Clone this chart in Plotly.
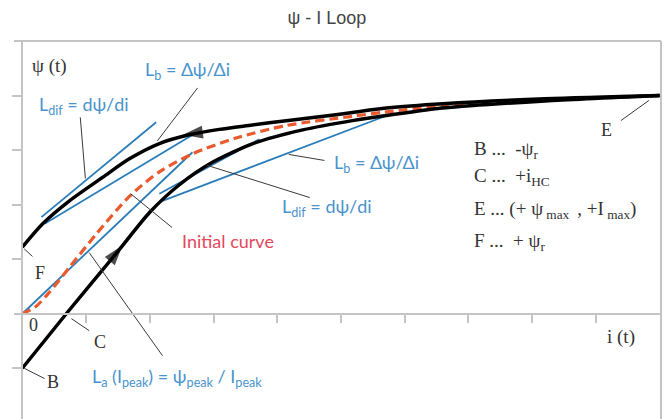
import plotly.graph_objects as go

# ---- hysteresis loop (flux linkage psi vs current i) ----
lower_i = [0.0, 0.69, 1.47, 2.0, 2.46, 2.99, 3.62, 4.40, 5.18, 5.87, 6.6, 8.2, 10.0]
lower_psi = [-1.0, 0.0, 1.10, 1.86, 2.36, 2.78, 3.12, 3.37, 3.54, 3.66, 3.77, 3.90, 4.0]

upper_i = [10.0, 8.2, 6.6, 5.71, 5.18, 4.66, 4.14, 3.61, 3.09, 2.62, 2.15, 1.68, 1.26, 0.74, 0.32, 0.0]
upper_psi = [4.0, 3.94, 3.85, 3.77, 3.69, 3.61, 3.54, 3.46, 3.38, 3.28, 3.12, 2.84, 2.50, 2.07, 1.65, 1.22]

init_i = [0.0, 0.2, 0.4, 0.74, 1.16, 1.68, 2.15, 2.67, 3.35, 4.14, 5.18, 5.71, 6.6, 8.2, 10.0]
init_psi = [0.0, 0.12, 0.36, 0.85, 1.46, 2.15, 2.60, 2.93, 3.22, 3.45, 3.62, 3.70, 3.81, 3.92, 4.0]

# ---- inductance construction lines ----
la_i, la_psi = [0.0, 2.67], [0.0, 2.96]
ldif_up_i, ldif_up_psi = [0.30, 2.10], [1.77, 3.51]
lb_up_i, lb_up_psi = [0.35, 2.70], [1.65, 3.30]
ldif_low_i, ldif_low_psi = [2.15, 3.72], [2.20, 3.20]
lb_low_i, lb_low_psi = [2.20, 5.71], [2.07, 3.63]

# ---- direction arrows on the loop (tail, tip) ----
arrow_up_i, arrow_up_psi = [1.30, 1.57], [0.86, 1.25]
arrow_back_i, arrow_back_psi = [2.95, 2.52], [3.35, 3.28]

# ---- leader lines from labels to curves ----
leaders = [
    ((2.75, 4.14), (2.12, 3.17)),   # top L_b
    ((0.91, 3.60), (0.99, 2.48)),   # top L_dif
    ((4.74, 2.81), (4.18, 2.92)),   # right L_b
    ((4.51, 2.13), (2.90, 2.72)),   # right L_dif
    ((2.35, 1.58), (1.70, 2.20)),   # initial curve
    ((2.20, -0.77), (1.05, 1.12)),  # L_a
    ((0.77, -0.09), (1.05, -0.31)), # C
    ((0.03, -1.0), (0.35, -1.19)),  # B
    ((0.03, 1.19), (0.16, 1.05)),   # F
    ((9.39, 3.54), (9.83, 3.91)),   # E
]

x_ticks = [1, 2, 3, 4, 5, 6, 7, 8, 9]
y_ticks = [-1, 1, 2, 3, 4]
x_range = [-0.13, 10.02]
y_range = [-1.93, 5.0]

BLACK = "#000000"
RED = "#ea5a2e"
BLUE = "#2a7db8"
BLUE_TXT = "#4a93cc"
RED_TXT = "#e2485c"
GRAY = "#c4c4c4"
LEADER = "#3a3a3a"
NB = "\u00a0"

fig = go.Figure()

# construction lines
for xs, ys in [(la_i, la_psi), (ldif_up_i, ldif_up_psi), (lb_up_i, lb_up_psi),
               (ldif_low_i, ldif_low_psi), (lb_low_i, lb_low_psi)]:
    fig.add_trace(go.Scatter(x=xs, y=ys, mode="lines",
                             line=dict(color=BLUE, width=1.8)))

# initial magnetisation curve
fig.add_trace(go.Scatter(x=init_i, y=init_psi, mode="lines",
                         line=dict(color=RED, width=3.2, dash="9px,5px",
                                   shape="spline", smoothing=0.8)))

# loop branches
fig.add_trace(go.Scatter(x=lower_i, y=lower_psi, mode="lines",
                         line=dict(color=BLACK, width=3.5, shape="spline", smoothing=0.7)))
fig.add_trace(go.Scatter(x=upper_i, y=upper_psi, mode="lines",
                         line=dict(color=BLACK, width=3.5, shape="spline", smoothing=0.8)))

# leader lines
for (p0, p1) in leaders:
    fig.add_trace(go.Scatter(x=[p0[0], p1[0]], y=[p0[1], p1[1]], mode="lines",
                             line=dict(color=LEADER, width=1)))

# arrowheads
for xs, ys in [(arrow_up_i, arrow_up_psi), (arrow_back_i, arrow_back_psi)]:
    fig.add_trace(go.Scatter(x=xs, y=ys, mode="markers",
                             marker=dict(symbol="arrow", size=[0, 21], color=BLACK,
                                         angleref="previous", line=dict(width=0))))

serif = dict(family="Liberation Serif", size=18, color="#333333")
serif_big = dict(family="Liberation Serif", size=19, color="#333333")
blue_font = dict(family="Lato", size=18, color=BLUE_TXT)

labels = [
    (0.12, 4.55, "ψ (t)", serif_big, "left"),
    (1.89, 4.46, "L<sub>b</sub> = Δψ/Δi", blue_font, "left"),
    (0.23, 3.82, "L<sub>dif</sub> = dψ/di", blue_font, "left"),
    (4.86, 2.76, "L<sub>b</sub> = Δψ/Δi", blue_font, "left"),
    (4.04, 1.94, "L<sub>dif</sub> = dψ/di", blue_font, "left"),
    (2.47, 1.33, "Initial curve", dict(family="Lato", size=18, color=RED_TXT), "left"),
    (1.06, -1.17, "L<sub>a</sub> (I<sub>peak</sub>) = ψ<sub>peak</sub> / I<sub>peak</sub>", blue_font, "left"),
    (0.17, -0.21, "0", serif, "center"),
    (1.22, -0.52, "C", serif, "center"),
    (0.48, -1.26, "B", serif, "center"),
    (0.28, 0.74, "F", serif, "center"),
    (9.17, 3.36, "E", serif, "center"),
    (7.06, 3.01, f"B{NB}...{NB}{NB}-ψ<sub>r</sub>", serif_big, "left"),
    (7.06, 2.50, f"C{NB}...{NB}{NB}+i<sub>HC</sub>", serif_big, "left"),
    (7.06, 1.91, f"E{NB}...{NB}(+{NB}ψ<sub>{NB}max{NB}</sub>{NB},{NB}+I<sub>{NB}max</sub>)", serif_big, "left"),
    (7.06, 1.31, f"F{NB}...{NB}{NB}+{NB}ψ<sub>r</sub>", serif_big, "left"),
    (9.39, -0.43, f"i{NB}(t)", serif_big, "center"),
]
for x, y, t, f, anchor in labels:
    fig.add_annotation(x=x, y=y, text=t, showarrow=False, font=f,
                       xanchor=anchor, yanchor="middle")

# plot frame: top and right edges
fig.add_shape(type="line", xref="paper", yref="paper", x0=0, x1=1, y0=1, y1=1,
              line=dict(color=GRAY, width=2))
fig.add_shape(type="line", xref="paper", yref="paper", x0=1, x1=1, y0=0, y1=1,
              line=dict(color=GRAY, width=2))

x_axis_pos = -y_range[0] / (y_range[1] - y_range[0])
y_axis_pos = -x_range[0] / (x_range[1] - x_range[0])

fig.update_layout(
    width=667, height=419,
    margin=dict(l=14, r=6, t=41, b=0),
    paper_bgcolor="white", plot_bgcolor="white",
    showlegend=False,
    title=dict(text="ψ - I Loop", x=0.49, xref="container", y=0.957,
               yanchor="middle", xanchor="center",
               font=dict(family="Liberation Sans", size=18, color="#444444")),
    xaxis=dict(range=x_range, anchor="free", position=x_axis_pos,
               showline=True, linecolor=GRAY, linewidth=2,
               ticks="outside", ticklen=8, tickwidth=1.5, tickcolor=GRAY,
               tickvals=x_ticks, showticklabels=False,
               showgrid=False, zeroline=False),
    yaxis=dict(range=y_range, anchor="free", position=y_axis_pos,
               showline=True, linecolor=GRAY, linewidth=2,
               ticks="outside", ticklen=9, tickwidth=1.5, tickcolor=GRAY,
               tickvals=y_ticks, showticklabels=False,
               showgrid=False, zeroline=False),
)

fig.write_html("out.html")
